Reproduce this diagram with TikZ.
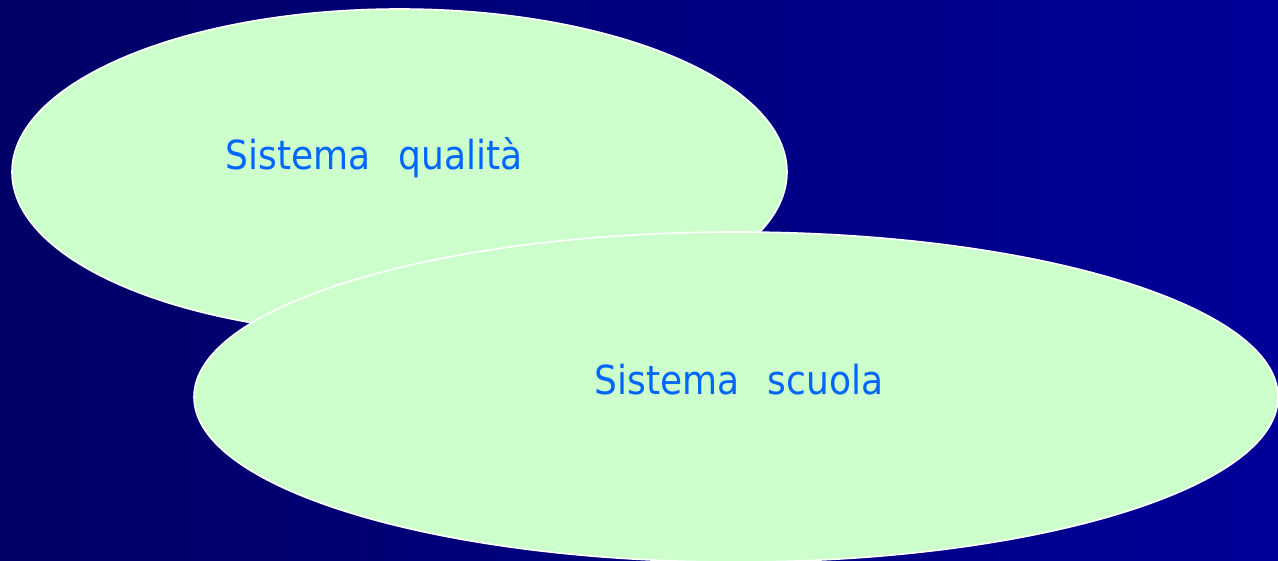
\documentclass[tikz,border=0pt]{standalone}
\usepackage{fontspec}
\setmainfont{DejaVu Sans Condensed}
\definecolor{bgL}{HTML}{000066}
\definecolor{bgR}{HTML}{000099}
\definecolor{fillG}{HTML}{CCFFCC}
\definecolor{txtB}{HTML}{0066FF}
\tikzset{
  blob/.style={draw=white, line width=1.6pt, fill=fillG},
  lbl/.style={text=txtB, font=\fontsize{40}{44}\selectfont, inner sep=0pt, anchor=base}
}
\begin{document}
\begin{tikzpicture}[x=1pt,y=-1pt]
\useasboundingbox (0,0) rectangle (1278,561);
\shade[left color=bgL, right color=bgR] (0,0) rectangle (1278,561);
\draw[blob] (399.5,172) ellipse [x radius=387.5, y radius=163];
\node[lbl] (q) at (374,170) {Sistema\hspace{0.7em}qualità};
\draw[blob] (736,397) ellipse [x radius=542, y radius=165];
\node[lbl] (s) at (739,395) {Sistema\hspace{0.7em}scuola};
\end{tikzpicture}
\end{document}
